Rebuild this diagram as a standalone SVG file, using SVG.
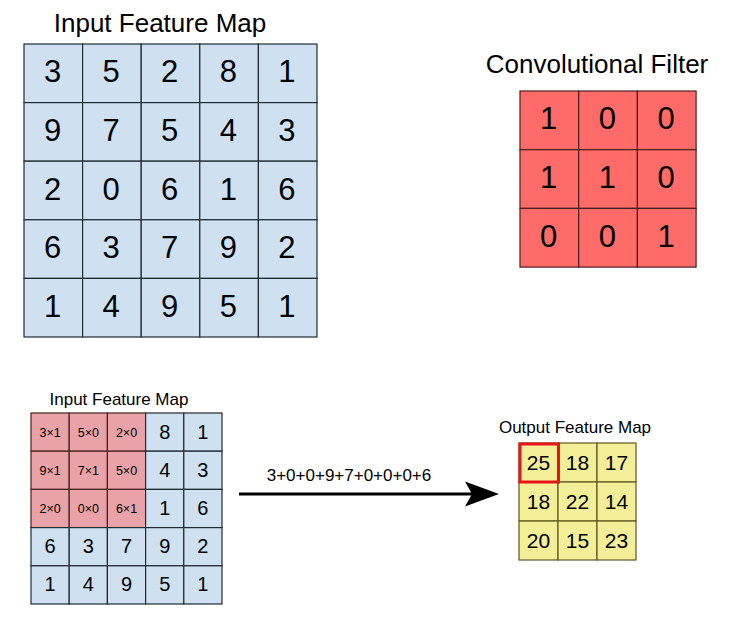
<svg xmlns="http://www.w3.org/2000/svg" width="729" height="620" viewBox="0 0 729 620">
<style>
text{font-family:"Liberation Sans",Arial,sans-serif;fill:#000;text-anchor:middle}
.blue{fill:#cfe0f0;stroke:#1e2b35;stroke-width:1.2}
.red{fill:#fe6b68;stroke:#4a2020;stroke-width:1.2}
.pink{fill:#e9a3a8;stroke:#4a2020;stroke-width:1.2}
.yel{fill:#f3ee98;stroke:#5f5820;stroke-width:1.2}
.big{font-size:31px}
.mid{font-size:20px}
.sm{font-size:12.5px}
.out{font-size:21px}
.title{font-size:26px}
.sub{font-size:17px}
</style>
<rect width="729" height="620" fill="#fff"/>

<g id="input-map-top">
<text class="title" x="160" y="32">Input Feature Map</text>
<g>
<rect class="blue" x="24" y="44" width="58.6" height="58.6"/><rect class="blue" x="82.6" y="44" width="58.6" height="58.6"/><rect class="blue" x="141.2" y="44" width="58.6" height="58.6"/><rect class="blue" x="199.8" y="44" width="58.6" height="58.6"/><rect class="blue" x="258.4" y="44" width="58.6" height="58.6"/>
<rect class="blue" x="24" y="102.6" width="58.6" height="58.6"/><rect class="blue" x="82.6" y="102.6" width="58.6" height="58.6"/><rect class="blue" x="141.2" y="102.6" width="58.6" height="58.6"/><rect class="blue" x="199.8" y="102.6" width="58.6" height="58.6"/><rect class="blue" x="258.4" y="102.6" width="58.6" height="58.6"/>
<rect class="blue" x="24" y="161.2" width="58.6" height="58.6"/><rect class="blue" x="82.6" y="161.2" width="58.6" height="58.6"/><rect class="blue" x="141.2" y="161.2" width="58.6" height="58.6"/><rect class="blue" x="199.8" y="161.2" width="58.6" height="58.6"/><rect class="blue" x="258.4" y="161.2" width="58.6" height="58.6"/>
<rect class="blue" x="24" y="219.8" width="58.6" height="58.6"/><rect class="blue" x="82.6" y="219.8" width="58.6" height="58.6"/><rect class="blue" x="141.2" y="219.8" width="58.6" height="58.6"/><rect class="blue" x="199.8" y="219.8" width="58.6" height="58.6"/><rect class="blue" x="258.4" y="219.8" width="58.6" height="58.6"/>
<rect class="blue" x="24" y="278.4" width="58.6" height="58.6"/><rect class="blue" x="82.6" y="278.4" width="58.6" height="58.6"/><rect class="blue" x="141.2" y="278.4" width="58.6" height="58.6"/><rect class="blue" x="199.8" y="278.4" width="58.6" height="58.6"/><rect class="blue" x="258.4" y="278.4" width="58.6" height="58.6"/>
</g>
<g class="big">
<text x="52.5" y="82.3">3</text><text x="111.1" y="82.3">5</text><text x="169.7" y="82.3">2</text><text x="228.3" y="82.3">8</text><text x="286.9" y="82.3">1</text>
<text x="52.5" y="140.9">9</text><text x="111.1" y="140.9">7</text><text x="169.7" y="140.9">5</text><text x="228.3" y="140.9">4</text><text x="286.9" y="140.9">3</text>
<text x="52.5" y="199.5">2</text><text x="111.1" y="199.5">0</text><text x="169.7" y="199.5">6</text><text x="228.3" y="199.5">1</text><text x="286.9" y="199.5">6</text>
<text x="52.5" y="258.1">6</text><text x="111.1" y="258.1">3</text><text x="169.7" y="258.1">7</text><text x="228.3" y="258.1">9</text><text x="286.9" y="258.1">2</text>
<text x="52.5" y="316.7">1</text><text x="111.1" y="316.7">4</text><text x="169.7" y="316.7">9</text><text x="228.3" y="316.7">5</text><text x="286.9" y="316.7">1</text>
</g>
</g>

<g id="conv-filter">
<text class="title" x="597" y="73">Convolutional Filter</text>
<rect class="red" x="520" y="91" width="58.7" height="58.7"/><rect class="red" x="578.7" y="91" width="58.7" height="58.7"/><rect class="red" x="637.4" y="91" width="58.7" height="58.7"/>
<rect class="red" x="520" y="149.7" width="58.7" height="58.7"/><rect class="red" x="578.7" y="149.7" width="58.7" height="58.7"/><rect class="red" x="637.4" y="149.7" width="58.7" height="58.7"/>
<rect class="red" x="520" y="208.4" width="58.7" height="58.7"/><rect class="red" x="578.7" y="208.4" width="58.7" height="58.7"/><rect class="red" x="637.4" y="208.4" width="58.7" height="58.7"/>
<g class="big">
<text x="548.6" y="129.4">1</text><text x="607.3" y="129.4">0</text><text x="666" y="129.4">0</text>
<text x="548.6" y="188">1</text><text x="607.3" y="188">1</text><text x="666" y="188">0</text>
<text x="548.6" y="246.8">0</text><text x="607.3" y="246.8">0</text><text x="666" y="246.8">1</text>
</g>
</g>

<g id="input-map-bottom">
<text class="sub" x="119" y="405">Input Feature Map</text>
<rect class="pink" x="31" y="413" width="38.2" height="38.2"/><rect class="pink" x="69.2" y="413" width="38.2" height="38.2"/><rect class="pink" x="107.4" y="413" width="38.2" height="38.2"/><rect class="blue" x="145.6" y="413" width="38.2" height="38.2"/><rect class="blue" x="183.8" y="413" width="38.2" height="38.2"/>
<rect class="pink" x="31" y="451.2" width="38.2" height="38.2"/><rect class="pink" x="69.2" y="451.2" width="38.2" height="38.2"/><rect class="pink" x="107.4" y="451.2" width="38.2" height="38.2"/><rect class="blue" x="145.6" y="451.2" width="38.2" height="38.2"/><rect class="blue" x="183.8" y="451.2" width="38.2" height="38.2"/>
<rect class="pink" x="31" y="489.4" width="38.2" height="38.2"/><rect class="pink" x="69.2" y="489.4" width="38.2" height="38.2"/><rect class="pink" x="107.4" y="489.4" width="38.2" height="38.2"/><rect class="blue" x="145.6" y="489.4" width="38.2" height="38.2"/><rect class="blue" x="183.8" y="489.4" width="38.2" height="38.2"/>
<rect class="blue" x="31" y="527.6" width="38.2" height="38.2"/><rect class="blue" x="69.2" y="527.6" width="38.2" height="38.2"/><rect class="blue" x="107.4" y="527.6" width="38.2" height="38.2"/><rect class="blue" x="145.6" y="527.6" width="38.2" height="38.2"/><rect class="blue" x="183.8" y="527.6" width="38.2" height="38.2"/>
<rect class="blue" x="31" y="565.8" width="38.2" height="38.2"/><rect class="blue" x="69.2" y="565.8" width="38.2" height="38.2"/><rect class="blue" x="107.4" y="565.8" width="38.2" height="38.2"/><rect class="blue" x="145.6" y="565.8" width="38.2" height="38.2"/><rect class="blue" x="183.8" y="565.8" width="38.2" height="38.2"/>
<g class="sm">
<text x="50.1" y="436.6">3×1</text><text x="88.3" y="436.6">5×0</text><text x="126.5" y="436.6">2×0</text>
<text x="50.1" y="474.8">9×1</text><text x="88.3" y="474.8">7×1</text><text x="126.5" y="474.8">5×0</text>
<text x="50.1" y="513">2×0</text><text x="88.3" y="513">0×0</text><text x="126.5" y="513">6×1</text>
</g>
<g class="mid">
<text x="164.7" y="438.6">8</text><text x="202.9" y="438.6">1</text>
<text x="164.7" y="476.8">4</text><text x="202.9" y="476.8">3</text>
<text x="164.7" y="515">1</text><text x="202.9" y="515">6</text>
<text x="50.1" y="553.2">6</text><text x="88.3" y="553.2">3</text><text x="126.5" y="553.2">7</text><text x="164.7" y="553.2">9</text><text x="202.9" y="553.2">2</text>
<text x="50.1" y="591.4">1</text><text x="88.3" y="591.4">4</text><text x="126.5" y="591.4">9</text><text x="164.7" y="591.4">5</text><text x="202.9" y="591.4">1</text>
</g>
</g>

<g id="output-map">
<text class="sub" x="575" y="433">Output Feature Map</text>
<rect class="yel" x="519" y="443" width="39" height="39"/><rect class="yel" x="558" y="443" width="39" height="39"/><rect class="yel" x="597" y="443" width="39" height="39"/>
<rect class="yel" x="519" y="482" width="39" height="39"/><rect class="yel" x="558" y="482" width="39" height="39"/><rect class="yel" x="597" y="482" width="39" height="39"/>
<rect class="yel" x="519" y="521" width="39" height="39"/><rect class="yel" x="558" y="521" width="39" height="39"/><rect class="yel" x="597" y="521" width="39" height="39"/>
<rect x="520" y="444" width="38.5" height="38" fill="none" stroke="#e8141a" stroke-width="3"/>
<g class="out">
<text x="538.5" y="469.5">25</text><text x="577.5" y="469.5">18</text><text x="616.5" y="469.5">17</text>
<text x="538.5" y="508.5">18</text><text x="577.5" y="508.5">22</text><text x="616.5" y="508.5">14</text>
<text x="538.5" y="547.5">20</text><text x="577.5" y="547.5">15</text><text x="616.5" y="547.5">23</text>
</g>
</g>

<g id="connectors">
<line x1="239" y1="494" x2="472" y2="494" stroke="#000" stroke-width="3"/>
<path d="M499,494 L465,481.5 L472,494 L465,506.5 Z" fill="#000"/>
<text x="349" y="481" style="font-size:17px">3+0+0+9+7+0+0+0+6</text>
</g>
</svg>
